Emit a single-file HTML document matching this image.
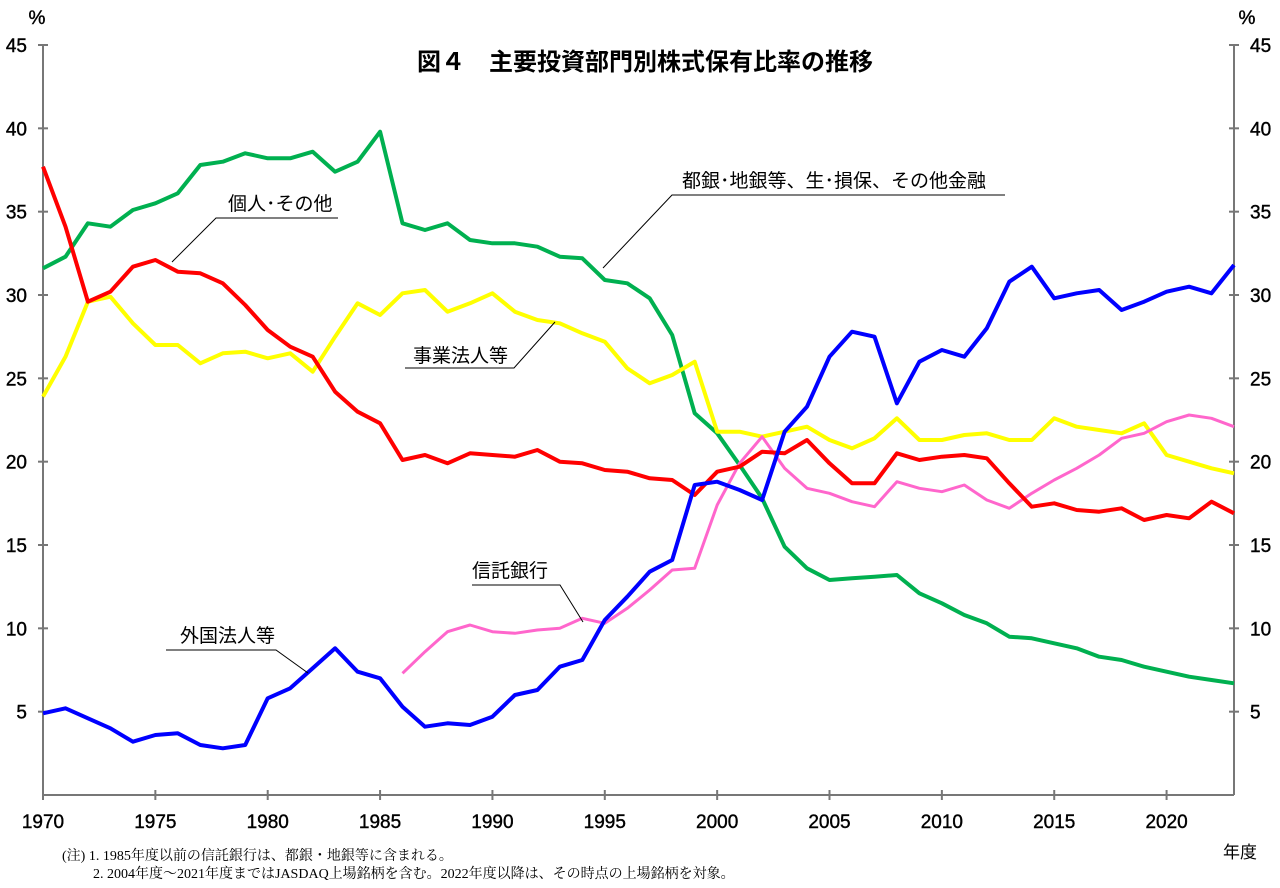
<!DOCTYPE html>
<html><head><meta charset="utf-8"><style>
body{margin:0;background:#fff;}
svg text{font-family:"Liberation Sans","Noto Sans CJK JP",sans-serif;}
.n{font-family:"Liberation Serif","Noto Serif CJK SC",serif !important;}
</style></head><body>
<svg id="s" width="1280" height="883" xmlns="http://www.w3.org/2000/svg"></svg>
<script>
const X0=43,XW=(1234-43)/53,Y0=795,YS=750/45;
const x=y=>X0+(y-1970)*XW, y=v=>Y0-v*YS;
let h='';
h+=`<g stroke="#777" stroke-width="2" fill="none"><line x1="43" y1="${y(45)}" x2="43" y2="795"/><line x1="1234" y1="${y(45)}" x2="1234" y2="795"/><line x1="43" y1="795" x2="1234" y2="795"/>`;
for(let v=5;v<=45;v+=5){h+=`<line x1="38" y1="${y(v)}" x2="48" y2="${y(v)}"/><line x1="1229" y1="${y(v)}" x2="1239" y2="${y(v)}"/>`;}
for(let yr=1970;yr<=2020;yr+=5){h+=`<line x1="${x(yr)}" y1="790" x2="${x(yr)}" y2="800"/>`;}
h+='</g>';
const st='stroke="#000" stroke-width="0.4"';
for(let v=5;v<=45;v+=5){h+=`<text x="27" y="${y(v)+7}" font-size="19" text-anchor="end" ${st}>${v}</text><text x="1250" y="${y(v)+7}" font-size="19" ${st}>${v}</text>`;}
for(let yr=1970;yr<=2020;yr+=5){h+=`<text x="${x(yr)}" y="828" font-size="19" text-anchor="middle" ${st}>${yr}</text>`;}
h+=`<text x="37" y="24" font-size="19" text-anchor="middle" ${st}>%</text><text x="1247" y="24" font-size="19" text-anchor="middle" ${st}>%</text>`;
h+=`<text x="1240" y="858" font-size="17" text-anchor="middle">年度</text>`;
h+=`<text x="645" y="70" font-size="24" font-weight="bold" text-anchor="middle">図４　主要投資部門別株式保有比率の推移</text>`;
h+=`<text class="n" x="62" y="860" font-size="14">(注)  1. 1985年度以前の信託銀行は、都銀・地銀等に含まれる。</text>`;
h+=`<text class="n" x="93" y="878" font-size="14">2. 2004年度～2021年度まではJASDAQ上場銘柄を含む。2022年度以降は、その時点の上場銘柄を対象。</text>`;
const S={
'#00b050':[1970,31.6,32.3,34.3,34.1,35.1,35.5,36.1,37.8,38.0,38.5,38.2,38.2,38.6,37.4,38.0,39.8,34.3,33.9,34.3,33.3,33.1,33.1,32.9,32.3,32.2,30.9,30.7,29.8,27.6,22.9,21.7,19.8,17.8,14.9,13.6,12.9,13.0,13.1,13.2,12.1,11.5,10.8,10.3,9.5,9.4,9.1,8.8,8.3,8.1,7.7,7.4,7.1,6.9,6.7],
'#ffff00':[1970,23.9,26.3,29.6,29.9,28.3,27.0,27.0,25.9,26.5,26.6,26.2,26.5,25.4,27.5,29.5,28.8,30.1,30.3,29.0,29.5,30.1,29.0,28.5,28.3,27.7,27.2,25.6,24.7,25.2,26.0,21.8,21.8,21.5,21.8,22.1,21.3,20.8,21.4,22.6,21.3,21.3,21.6,21.7,21.3,21.3,22.6,22.1,21.9,21.7,22.3,20.4,20.0,19.6,19.3],
'#ff66cc':[1986,7.3,8.6,9.8,10.2,9.8,9.7,9.9,10.0,10.6,10.3,11.2,12.3,13.5,13.6,17.4,19.9,21.5,19.6,18.4,18.1,17.6,17.3,18.8,18.4,18.2,18.6,17.7,17.2,18.1,18.9,19.6,20.4,21.4,21.7,22.4,22.8,22.6,22.1],
'#ff0000':[1970,37.7,34.1,29.6,30.2,31.7,32.1,31.4,31.3,30.7,29.4,27.9,26.9,26.3,24.2,23.0,22.3,20.1,20.4,19.9,20.5,20.4,20.3,20.7,20.0,19.9,19.5,19.4,19.0,18.9,18.0,19.4,19.7,20.6,20.5,21.3,19.9,18.7,18.7,20.5,20.1,20.3,20.4,20.2,18.7,17.3,17.5,17.1,17.0,17.2,16.5,16.8,16.6,17.6,16.9],
'#0000ff':[1970,4.9,5.2,4.6,4.0,3.2,3.6,3.7,3.0,2.8,3.0,5.8,6.4,7.6,8.8,7.4,7.0,5.3,4.1,4.3,4.2,4.7,6.0,6.3,7.7,8.1,10.5,11.9,13.4,14.1,18.6,18.8,18.3,17.7,21.8,23.3,26.3,27.8,27.5,23.5,26.0,26.7,26.3,28.0,30.8,31.7,29.8,30.1,30.3,29.1,29.6,30.2,30.5,30.1,31.8]};
for(const c in S){const a=S[c],s=a[0];const p=a.slice(1).map((v,i)=>x(s+i).toFixed(1)+','+y(v).toFixed(1)).join(' ');
h+=`<polyline points="${p}" fill="none" stroke="${c}" stroke-width="${c=='#ff66cc'?3:4}" stroke-linejoin="round"/>`;}
h+=`<g stroke="#000" stroke-width="1" fill="none">
<polyline points="1005,195 672,195 603,268"/>
<polyline points="338,218 216,218 172,262"/>
<polyline points="405,368 514,368 555,322"/>
<polyline points="472,585 560,585 583,622"/>
<polyline points="166,650 276,650 308,673"/></g>`;
h+=`<text x="682" y="187" font-size="19">都銀･地銀等、生･損保、その他金融</text>
<text x="228" y="210" font-size="19">個人･その他</text>
<text x="413" y="362" font-size="19">事業法人等</text>
<text x="472" y="577" font-size="19">信託銀行</text>
<text x="180" y="642" font-size="19">外国法人等</text>`;
document.getElementById('s').innerHTML=h;
</script>
</body></html>
